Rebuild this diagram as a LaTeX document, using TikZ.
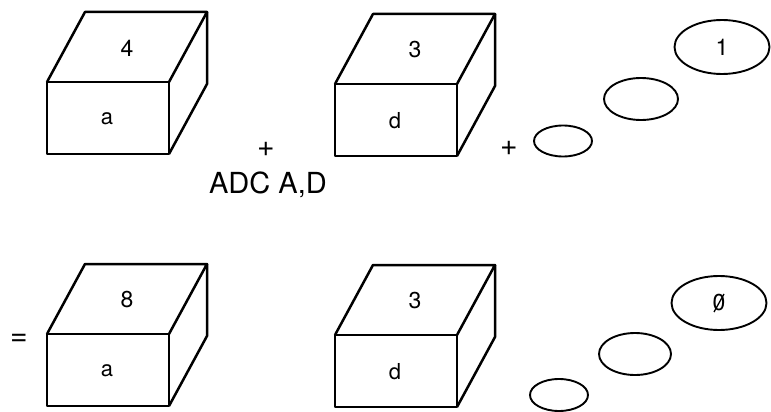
\documentclass[tikz,border=0pt]{standalone}
\usepackage{fontspec}
\setmainfont{TeX Gyre Heros}
\usetikzlibrary{shapes.geometric}

\tikzset{
  edge/.style={line width=2.5pt,line join=round},
  carry/.style={ellipse,draw,line width=1.9pt,inner sep=0pt},
  lbl/.style={font=\fontsize{23}{23}\selectfont,inner sep=0pt}
}

\begin{document}
\begin{tikzpicture}[x=1pt,y=-1pt]
    \useasboundingbox (0,0) rectangle (771,412);
    % registers A and D, before and after the add
    \foreach \i/\x/\y/\val/\reg in {1/47/82/4/a,2/335/84/3/d,3/47/334/8/a,4/335/335/3/d}{
        \begin{scope}[shift={(\x,\y)}]
            \draw[edge] (0,0) rectangle (122,72);
            \draw[edge] (0,0) -- (38,-70) -- (160,-70) -- (122,0);
            \draw[edge] (160,-70) -- (160,2) -- (122,72);
            \node[lbl] (val\i) at (80,-34) {\val};
            \node[lbl,font=\fontsize{22}{22}\selectfont] (reg\i) at (60,37) {\reg};
        \end{scope}
    }
    % carry flag, before
    \node[carry,minimum width=58pt,minimum height=31pt] (c1) at (563,141) {};
    \node[carry,minimum width=74pt,minimum height=42pt] (c2) at (641,99) {};
    \node[carry,minimum width=95pt,minimum height=54pt,lbl] (c3) at (722,47) {1};
    % carry flag, after (zero with a slash through it)
    \node[carry,minimum width=58pt,minimum height=32pt] (d1) at (559,395) {};
    \node[carry,minimum width=72pt,minimum height=42pt] (d2) at (635,354) {};
    \node[carry,minimum width=95pt,minimum height=54pt,lbl] (d3) at (719,303) {0};
    \draw[line width=1.3pt] ([shift={(-5,9)}]d3.center) -- ([shift={(5,-9)}]d3.center);
    % operators
    \node[lbl,font=\fontsize{30}{30}\selectfont] (plus1) at (266,149) {+};
    \node[lbl,font=\fontsize{30}{30}\selectfont] (plus2) at (509,148) {+};
    \node[lbl,font=\fontsize{29}{29}\selectfont] (op) at (268,185) {ADC A,D};
    \node[lbl,font=\fontsize{30}{30}\selectfont] (eq) at (19,340) {=};
\end{tikzpicture}
\end{document}
